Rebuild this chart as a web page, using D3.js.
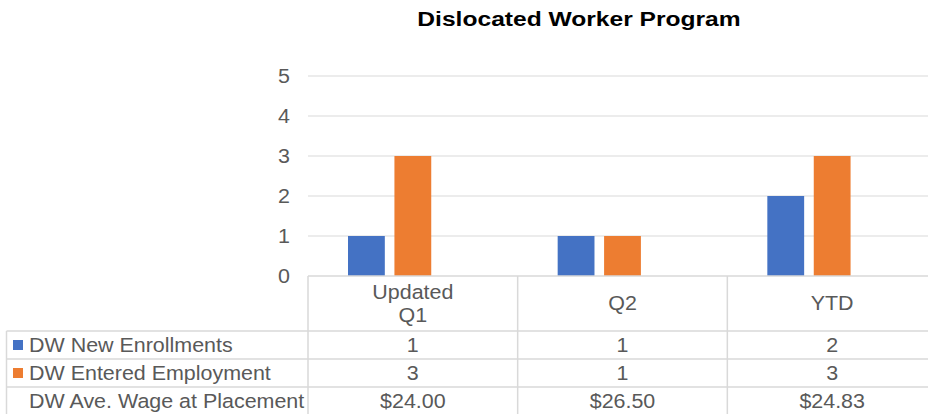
<!DOCTYPE html>
<html>
<head>
<meta charset="utf-8">
<script src="https://cdn.jsdelivr.net/npm/d3@7"></script>
<style>
  body { margin: 0; background: #fff; }
  text { font-family: "Liberation Sans", Arial, sans-serif; fill: #595959; }
</style>
</head>
<body>
<main></main>
<script>
// data
var categories = [["Updated", "Q1"], ["Q2"], ["YTD"]];
var seriesNames = ["DW New Enrollments", "DW Entered Employment", "DW Ave. Wage at Placement"];
var enrollments = [1, 1, 2];
var employment = [3, 1, 3];
var wageLabels = ["$24.00", "$26.50", "$24.83"];
var yTicks = [0, 1, 2, 3, 4, 5];
var colors = ["#4472C4", "#ED7D31", "none"];

var W = 928, H = 414;
var svg = d3.select("main").append("svg")
  .attr("width", W)
  .attr("height", H);

var plotLeft = 308, plotRight = 937, plotTop = 76, base = 276;
var sx = 1.1, fs = "19.5px";

var x = d3.scaleBand()
  .domain(d3.range(categories.length))
  .range([plotLeft, plotRight]);

var xs = d3.scaleBand()
  .domain(d3.range(3))
  .range([40, x.bandwidth() - 40])
  .paddingInner(0.207);

var y = d3.scaleLinear()
  .domain([0, 5])
  .range([base, plotTop]);

// stretched text helper (reference text is a bit wide)
function label(px, py, str, anchor, size, scale) {
  return svg.append("text")
    .attr("transform", "translate(" + px + "," + py + ") scale(" + (scale || sx) + ",1)")
    .attr("dy", "0.36em")
    .attr("text-anchor", anchor || "start")
    .style("font-size", size || fs)
    .text(str);
}

// title
label(579, 19, "Dislocated Worker Program", "middle", "20.5px", 1.2)
  .style("font-weight", "bold")
  .style("fill", "#000");

// gridlines
svg.selectAll(".grid")
  .data(yTicks.filter(function(d) { return d > 0; }))
  .enter().append("line")
    .attr("x1", plotLeft)
    .attr("x2", W)
    .attr("y1", function(d) { return y(d); })
    .attr("y2", function(d) { return y(d); })
    .attr("stroke", "#d9d9d9")
    .attr("stroke-width", 1);

// y labels
yTicks.forEach(function(d) {
  label(290, y(d), d, "end");
});

// bars
var series = [enrollments, employment];
series.forEach(function(vals, s) {
  svg.selectAll(".bar" + s)
    .data(vals)
    .enter().append("rect")
      .attr("x", function(d, i) { return x(i) + xs(s); })
      .attr("y", function(d) { return y(d); })
      .attr("width", xs.bandwidth())
      .attr("height", function(d) { return base - y(d); })
      .attr("fill", colors[s]);
});

// data table
var rowTop = [331, 359, 387, 415];
var lineColor = "#d9d9d9";

svg.append("line")
  .attr("x1", plotLeft).attr("x2", W)
  .attr("y1", base).attr("y2", base)
  .attr("stroke", lineColor).attr("stroke-width", 1.5);

rowTop.slice(0, 3).forEach(function(r) {
  svg.append("line")
    .attr("x1", 6.5).attr("x2", W)
    .attr("y1", r).attr("y2", r)
    .attr("stroke", lineColor).attr("stroke-width", 1.5);
});

svg.append("line")
  .attr("x1", 6.5).attr("x2", 6.5)
  .attr("y1", 331).attr("y2", H)
  .attr("stroke", lineColor).attr("stroke-width", 1.5);
d3.range(categories.length).forEach(function(i) {
  svg.append("line")
    .attr("x1", x(i)).attr("x2", x(i))
    .attr("y1", base).attr("y2", H)
    .attr("stroke", lineColor).attr("stroke-width", 1.5);
});

// header labels
categories.forEach(function(lines, i) {
  var cx = x(i) + x.bandwidth() / 2;
  var start = 303 - (lines.length - 1) * 11.5;
  lines.forEach(function(l, k) {
    label(cx, start + k * 23, l, "middle");
  });
});

// row labels + legend keys
seriesNames.forEach(function(name, s) {
  var cy = (rowTop[s] + rowTop[s + 1]) / 2;
  if (colors[s] !== "none") {
    svg.append("rect")
      .attr("x", 13).attr("y", cy - 5)
      .attr("width", 10).attr("height", 10)
      .attr("fill", colors[s]);
  }
  label(29, cy, name, "start");
});

// cell values
var rows = [enrollments, employment, wageLabels];
rows.forEach(function(vals, s) {
  var cy = (rowTop[s] + rowTop[s + 1]) / 2;
  vals.forEach(function(d, i) {
    label(x(i) + x.bandwidth() / 2, cy, d, "middle");
  });
});
</script>
</body>
</html>
